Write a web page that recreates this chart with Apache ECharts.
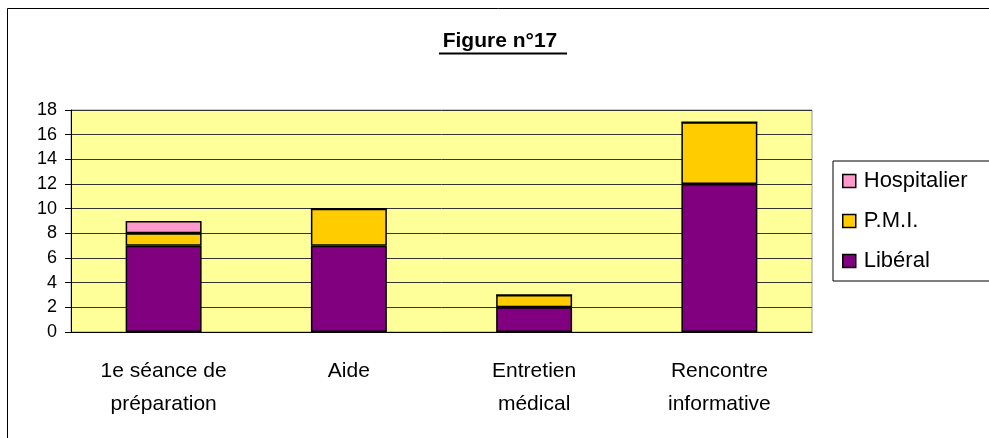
<!DOCTYPE html>
<html>
<head>
<meta charset="utf-8">
<script src="https://cdn.jsdelivr.net/npm/echarts@6/dist/echarts.min.js"></script>
<style>
  html, body { margin: 0; padding: 0; background: #fff; }
  #chart { width: 989px; height: 438px; }
</style>
</head>
<body>
<div id="chart"></div>
<script>
const categories = ['1e séance de\npréparation', 'Aide', 'Entretien\nmédical', 'Rencontre\ninformative'];
const liberal = [7, 7, 2, 12];
const pmi = [1, 3, 1, 5];
const hospitalier = [1, 0, 0, 0];
const legendNames = ['Hospitalier', 'P.M.I.', 'Libéral'];

const font = 'Liberation Sans, Arial, sans-serif';
const chart = echarts.init(document.getElementById('chart'));

const barStyle = color => ({ color: color, borderColor: '#000', borderWidth: 1.5 });

chart.setOption({
  animation: false,
  textStyle: { fontFamily: font },
  grid: {
    left: 71, right: 177, top: 110, bottom: 106,
    show: true, backgroundColor: '#FFFF99', borderColor: '#999', borderWidth: 1
  },
  graphic: [
    { type: 'rect', shape: { x: 7.5, y: 8.5, width: 1000, height: 500 },
      style: { fill: 'none', stroke: '#000', lineWidth: 1 } },
    // titre souligné
    { type: 'text', x: 500, y: 41,
      style: { text: 'Figure n°17', font: 'bold 21px ' + font, fill: '#000',
        textAlign: 'center', textVerticalAlign: 'middle' } },
    { type: 'line', shape: { x1: 439, y1: 53.5, x2: 567, y2: 53.5 },
      style: { stroke: '#000', lineWidth: 2 } }
  ],
  legend: {
    data: legendNames,
    orient: 'vertical',
    left: 833, top: 161,
    padding: [9, 40, 9, 9],
    itemGap: 18,
    itemWidth: 13, itemHeight: 13,
    borderColor: '#000', borderWidth: 1,
    icon: 'rect',
    itemStyle: { borderColor: '#000', borderWidth: 1.5 },
    textStyle: { fontSize: 22, color: '#000', fontFamily: font, padding: [0, 0, 0, 3] }
  },
  xAxis: {
    type: 'category',
    data: categories,
    axisLine: { lineStyle: { color: '#000', width: 1 } },
    axisTick: { length: 6, lineStyle: { color: '#000' } },
    axisLabel: { color: '#000', fontSize: 21, margin: 23, lineHeight: 33 }
  },
  yAxis: {
    type: 'value',
    min: 0, max: 18, interval: 2,
    axisLine: { show: true, lineStyle: { color: '#000', width: 1 } },
    axisTick: { show: true, length: 6, lineStyle: { color: '#000' } },
    axisLabel: { color: '#000', fontSize: 18, margin: 14 },
    splitLine: { lineStyle: { color: '#333', width: 1 } }
  },
  series: [
    { name: 'Libéral', type: 'bar', stack: 'total', data: liberal,
      barCategoryGap: '59%', itemStyle: barStyle('#800080') },
    { name: 'P.M.I.', type: 'bar', stack: 'total', data: pmi,
      itemStyle: barStyle('#FFCC00') },
    { name: 'Hospitalier', type: 'bar', stack: 'total', data: hospitalier,
      itemStyle: barStyle('#FF99CC') }
  ]
});
</script>
</body>
</html>
